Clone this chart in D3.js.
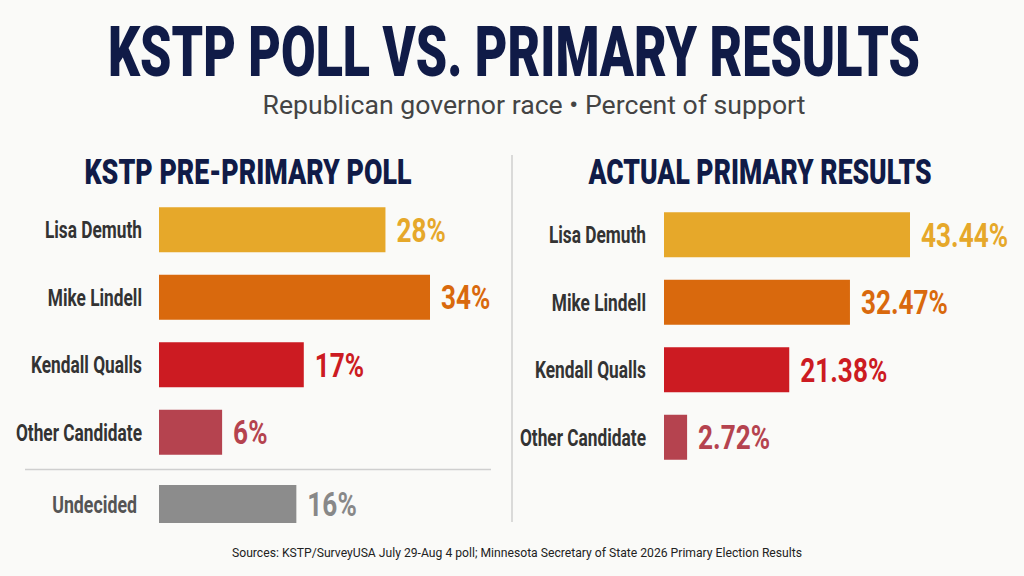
<!DOCTYPE html>
<html>
<head>
<meta charset="utf-8">
<script src="https://cdn.jsdelivr.net/npm/d3@7"></script>
<style>
  html, body { margin: 0; padding: 0; background: #fafaf8; }
  svg { display: block; }
</style>
</head>
<body>
<div id="outer"></div>
<script>
////////// DATA //////////
const candidates = ['Lisa Demuth', 'Mike Lindell', 'Kendall Qualls', 'Other Candidate'];
const pollValues = [28, 34, 17, 6];
const resultValues = [43.44, 32.47, 21.38, 2.72];
const undecidedLabel = 'Undecided';
const undecidedValue = 16;
const barColors = ['#e6a82a', '#d9690d', '#cc1b22', '#b5434f'];
const undecidedColor = '#8c8c8c';

const pollLabels = pollValues.map(v => v + '%');
const resultLabels = resultValues.map(v => v.toFixed(2) + '%');

////////// SIZING //////////
const width = 1024;
const height = 576;
const font = 'Roboto, "Noto Sans", sans-serif';

// no condensed face installed, so squeeze glyphs horizontally
function squeeze(sel, k) {
	sel.each(function() {
		const w = this.getComputedTextLength();
		d3.select(this)
			.attr('textLength', w * k)
			.attr('lengthAdjust', 'spacingAndGlyphs');
	});
	return sel;
}

const svg = d3.select('#outer').append('svg')
	.attr('width', width)
	.attr('height', height);

svg.append('rect')
	.attr('width', width)
	.attr('height', height)
	.attr('fill', '#fafaf8');

// TITLE //
svg.append('text')
	.attr('x', 514)
	.attr('y', 76)
	.attr('text-anchor', 'middle')
	.attr('font-family', font)
	.attr('font-weight', 900)
	.attr('font-size', 71)
	.attr('fill', '#101b47')
	.attr('textLength', 812)
	.attr('lengthAdjust', 'spacingAndGlyphs')
	.text('KSTP POLL VS. PRIMARY RESULTS');

svg.append('text')
	.attr('x', 534)
	.attr('y', 114)
	.attr('text-anchor', 'middle')
	.attr('font-family', font)
	.attr('font-size', 25)
	.attr('fill', '#444')
	.attr('textLength', 543)
	.attr('lengthAdjust', 'spacingAndGlyphs')
	.text('Republican governor race \u2022 Percent of support');

// DIVIDER //
svg.append('line')
	.attr('x1', 512).attr('x2', 512)
	.attr('y1', 155).attr('y2', 522)
	.attr('stroke', '#cfcfcf')
	.attr('stroke-width', 1.5);

// PANEL //
function drawPanel(opts) {
	const g = svg.append('g');

	g.append('text')
		.attr('x', opts.titleX)
		.attr('y', 184)
		.attr('text-anchor', 'middle')
		.attr('font-family', font)
		.attr('font-weight', 900)
		.attr('font-size', 35)
		.attr('fill', '#101b47')
		.attr('textLength', opts.titleLen)
		.attr('lengthAdjust', 'spacingAndGlyphs')
		.text(opts.title);

	const y = d3.scaleBand()
		.domain(opts.cats)
		.range(opts.yRange)
		.paddingInner(1 / 3)
		.paddingOuter(1 / 6);

	const x = d3.scaleLinear()
		.domain(opts.xDomain)
		.range(opts.xRange);
	const x0 = x.range()[0];

	const rows = g.selectAll('.row')
		.data(opts.cats.map((c, i) => ({ cat: c, val: opts.vals[i], label: opts.labels[i], color: opts.colors[i] })))
		.join('g')
		.attr('class', 'row');

	rows.append('rect')
		.attr('x', x0)
		.attr('y', d => y(d.cat))
		.attr('width', d => x(d.val) - x0)
		.attr('height', y.bandwidth())
		.attr('fill', d => d.color);

	rows.append('text')
		.attr('x', opts.labelX)
		.attr('y', d => y(d.cat) + y.bandwidth() / 2)
		.attr('dy', '0.36em')
		.attr('text-anchor', 'end')
		.attr('font-family', font)
		.attr('font-weight', 'bold')
		.attr('font-size', 24)
		.attr('fill', '#333')
		.text(d => d.cat)
		.call(squeeze, 0.72);

	rows.append('text')
		.attr('x', d => x(d.val) + 11)
		.attr('y', d => y(d.cat) + y.bandwidth() / 2)
		.attr('dy', '0.36em')
		.attr('font-family', font)
		.attr('font-weight', 'bold')
		.attr('font-size', 34)
		.attr('fill', d => d.color)
		.text(d => d.label)
		.call(squeeze, 0.77);

	return { x, y, g };
}

const left = drawPanel({
	title: 'KSTP PRE-PRIMARY POLL', titleX: 248, titleLen: 327,
	cats: candidates, vals: pollValues, labels: pollLabels, colors: barColors,
	yRange: [196, 466], xDomain: [-2.5, 34], xRange: [159, 430], labelX: 142
});

const right = drawPanel({
	title: 'ACTUAL PRIMARY RESULTS', titleX: 760, titleLen: 343,
	cats: candidates, vals: resultValues, labels: resultLabels, colors: barColors,
	yRange: [201, 471], xDomain: [-1.5, 43.44], xRange: [664, 910], labelX: 646
});

// UNDECIDED ROW (left only) //
left.g.append('line')
	.attr('x1', 25).attr('x2', 491)
	.attr('y1', 469.5).attr('y2', 469.5)
	.attr('stroke', '#cfcfcf')
	.attr('stroke-width', 1.5);

const undY = 485, undH = 38;
const lx0 = left.x.range()[0];
left.g.append('rect')
	.attr('x', lx0)
	.attr('y', undY)
	.attr('width', left.x(undecidedValue) - lx0)
	.attr('height', undH)
	.attr('fill', undecidedColor);

left.g.append('text')
	.attr('x', 137)
	.attr('y', undY + undH / 2)
	.attr('dy', '0.36em')
	.attr('text-anchor', 'end')
	.attr('font-family', font)
	.attr('font-weight', 'bold')
	.attr('font-size', 24)
	.attr('fill', '#555')
	.text(undecidedLabel)
	.call(squeeze, 0.74);

left.g.append('text')
	.attr('x', left.x(undecidedValue) + 11)
	.attr('y', undY + undH / 2)
	.attr('dy', '0.36em')
	.attr('font-family', font)
	.attr('font-weight', 'bold')
	.attr('font-size', 34)
	.attr('fill', '#888')
	.text(undecidedValue + '%')
	.call(squeeze, 0.77);

// SOURCE //
svg.append('text')
	.attr('x', 517)
	.attr('y', 557)
	.attr('text-anchor', 'middle')
	.attr('font-family', font)
	.attr('font-size', 13.5)
	.attr('fill', '#222')
	.attr('textLength', 570)
	.attr('lengthAdjust', 'spacingAndGlyphs')
	.text('Sources: KSTP/SurveyUSA July 29-Aug 4 poll; Minnesota Secretary of State 2026 Primary Election Results');
</script>
</body>
</html>
